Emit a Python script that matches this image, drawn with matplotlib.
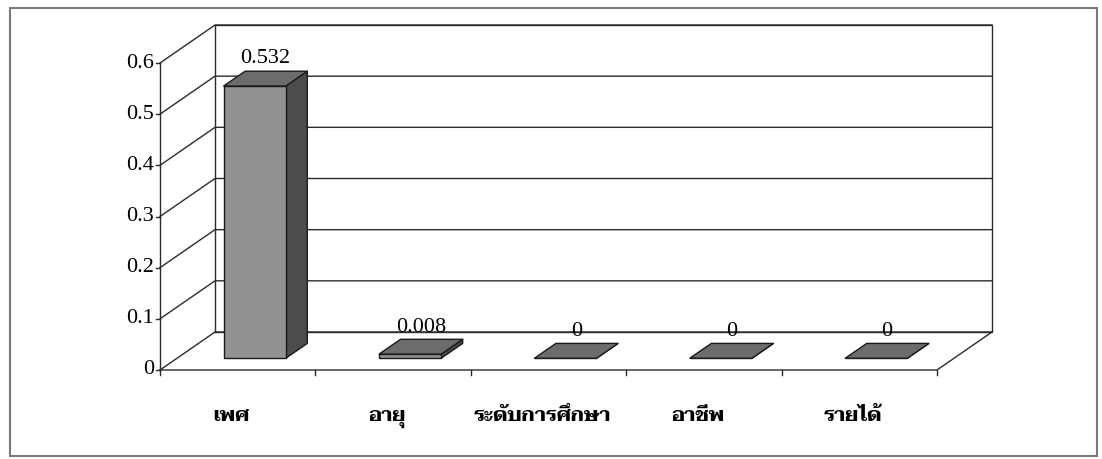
import matplotlib
matplotlib.use("Agg")
import matplotlib.pyplot as plt
from matplotlib.patches import Polygon, Rectangle

plt.rcParams["font.family"] = ["Liberation Serif", "DejaVu Serif"]

# data
categories = ["เพศ", "อายุ", "ระดับการศึกษา", "อาชีพ", "รายได้"]
values = [0.532, 0.008, 0, 0, 0]
yticks = [0, 0.1, 0.2, 0.3, 0.4, 0.5, 0.6]

W, H = 1102, 459
fig = plt.figure(figsize=(W / 100, H / 100), dpi=100)
ax = fig.add_axes([0, 0, 1, 1])
ax.axis("off")

# pseudo-3D layout: front plane origin and scale in pixels
n = len(categories)
X0, Y0 = 160, 370
SX = (937 - X0) / n
SY = (Y0 - 63) / yticks[-1]
ax.set_xlim(-X0 / SX, (W - X0) / SX)
ax.set_ylim(-(H - Y0) / SY, Y0 / SY)

DX, DY = 55 / SX, 38 / SY      # full depth offset
D0, D1 = 0.31, 0.70            # bar depth (fraction of full depth)
HW = 0.2                       # half bar width
ymax = yticks[-1]

LINE = "#2b2b2b"
FRONT, TOP, SIDE = "#929292", "#6c6c6c", "#4c4c4c"
lw = 1.0

# walls and floor
ax.plot([DX, n + DX, n + DX, DX, DX], [DY, DY, ymax + DY, ymax + DY, DY],
        color=LINE, lw=lw, zorder=1)
for t in yticks:
    ax.plot([0, DX, n + DX], [t, t + DY, t + DY], color=LINE, lw=lw, zorder=1)
    ax.plot([-4 / SX, 0], [t, t], color=LINE, lw=lw, zorder=1)
    ax.text(-6 / SX, t, f"{t:g}", ha="right", va="center", fontsize=16)
ax.plot([0, 0], [0, ymax], color=LINE, lw=lw, zorder=1)
ax.plot([0, n, n + DX], [0, 0, DY], color=LINE, lw=lw, zorder=1)
for u in range(n + 1):
    ax.plot([u, u], [0, -5 / SY], color=LINE, lw=lw, zorder=1)

# bars
for i, (cat, v) in enumerate(zip(categories, values)):
    c = i + 0.5
    xl0, xr0 = c - HW + D0 * DX, c + HW + D0 * DX
    xl1, xr1 = c - HW + D1 * DX, c + HW + D1 * DX
    b0, b1 = D0 * DY, D1 * DY
    side = [(xr0, b0), (xr1, b1), (xr1, b1 + v), (xr0, b0 + v)]
    front = [(xl0, b0), (xr0, b0), (xr0, b0 + v), (xl0, b0 + v)]
    top = [(xl0, b0 + v), (xr0, b0 + v), (xr1, b1 + v), (xl1, b1 + v)]
    for poly, fc in [(side, SIDE), (front, FRONT), (top, TOP)]:
        ax.add_patch(Polygon(poly, closed=True, facecolor=fc, edgecolor="#1a1a1a",
                             lw=1.0, joinstyle="round", zorder=3))
    ax.annotate(f"{v:g}", (c + (D0 + D1) / 2 * DX, v + b1), xytext=(0, 2),
                textcoords="offset points", ha="center", va="bottom",
                fontsize=16, zorder=4)
    ax.text(c - 0.04, -51 / SY, cat, ha="center", va="baseline", fontsize=14.5,
            fontweight="bold", family=["Taviraj", "Liberation Serif"])

# outer chart frame
fig.add_artist(Rectangle((10 / W, 1 - 456 / H), (1097 - 10) / W, (456 - 8) / H,
                         transform=fig.transFigure, fill=False,
                         edgecolor="#7a7a7a", lw=1.5))

fig.savefig("out.png", dpi=100)
